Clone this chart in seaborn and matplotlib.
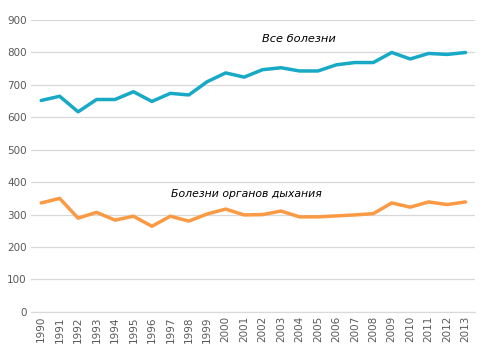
import numpy as np
import pandas as pd
import matplotlib
matplotlib.use('Agg')
import matplotlib.pyplot as plt
import seaborn as sns

years = list(range(1990, 2014))
all_diseases = [652, 665, 617, 655, 655, 679, 649, 674, 669, 710, 737, 724,
                747, 753, 743, 743, 762, 769, 769, 800, 780, 797, 794, 800]
resp_diseases = [336, 350, 289, 307, 283, 295, 264, 295, 280, 302, 317, 299,
                 300, 311, 293, 293, 296, 299, 303, 336, 323, 339, 331, 339]
label_all = "Все болезни"
label_resp = "Болезни органов дыхания"

sns.set_style("white")
plt.rcParams['font.family'] = ['DejaVu Sans']

df = pd.DataFrame({"pos": np.arange(len(years)), "all": all_diseases, "resp": resp_diseases})

fig = plt.figure(figsize=(4.93, 3.52), dpi=100)
ax = fig.add_axes([0.063, 0.114, 0.9, 0.829])

sns.lineplot(data=df, x="pos", y="all", color="#17A9C6", linewidth=2.5, ax=ax)
sns.lineplot(data=df, x="pos", y="resp", color="#FA9A45", linewidth=2.5, ax=ax)

ax.set_xlim(-0.55, 23.5)
ax.set_ylim(0, 900)
ax.set_yticks(range(0, 1000, 100))
ax.set_xticks(df["pos"])
ax.set_xticklabels([str(y) for y in years], rotation=90)
ax.tick_params(axis='both', labelsize=7.5, colors='#595959', length=0, pad=3)
ax.grid(axis='y', color='#D9D9D9', linewidth=0.9)
ax.set_axisbelow(True)
for s in ['top', 'right', 'left']:
    ax.spines[s].set_visible(False)
ax.spines['bottom'].set_color('#D9D9D9')
ax.set_xlabel("")
ax.set_ylabel("")

ax.text(11.95, 842, label_all, fontsize=8.2, style='italic', va='center', ha='left', color='black')
ax.text(7.05, 364, label_resp, fontsize=7.8, style='italic', va='center', ha='left', color='black')

fig.savefig("out.png", dpi=100)
